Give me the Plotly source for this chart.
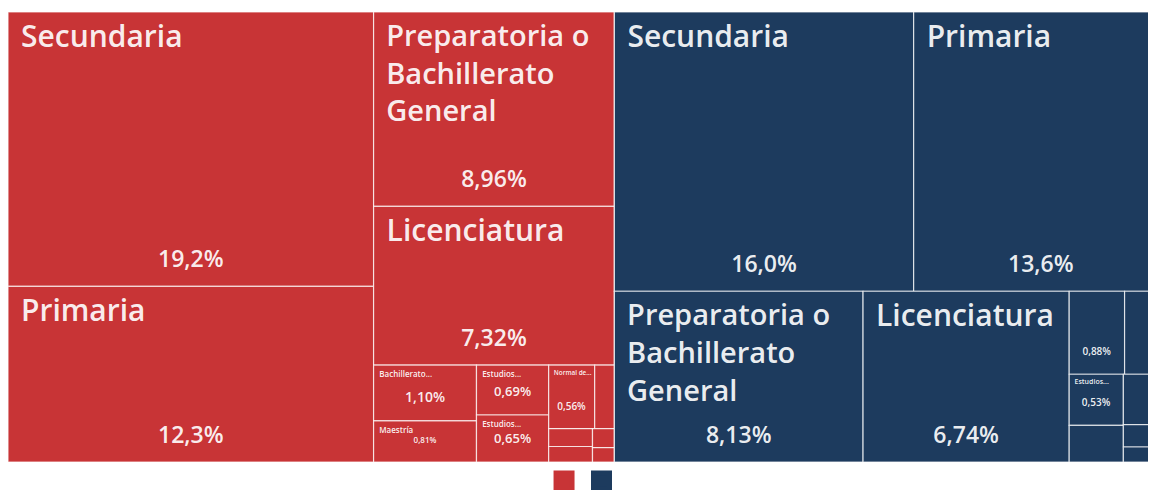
import plotly.graph_objects as go

## participación por nivel de escolaridad (%) ##
## rojo = mujeres, azul = hombres ##
niveles_m = ["Secundaria", "Primaria", "Preparatoria o Bachillerato General", "Licenciatura",
             "Bachillerato tecnológico", "Maestría",
             "Estudios técnicos o comerciales con preparatoria terminada",
             "Estudios técnicos o comerciales con secundaria terminada",
             "Normal de licenciatura",
             "Estudios técnicos o comerciales con primaria terminada",
             "Especialidad", "Doctorado",
             "Normal con primaria o secundaria terminada", "Preescolar"]
pct_m = [19.2, 12.3, 8.96, 7.32, 1.10, 0.81, 0.69, 0.65, 0.56, 0.24, 0.15, 0.13, 0.08, 0.06]

niveles_h = ["Secundaria", "Primaria", "Preparatoria o Bachillerato General", "Licenciatura",
             "Bachillerato tecnológico", "Maestría",
             "Estudios técnicos o comerciales con secundaria terminada",
             "Estudios técnicos o comerciales con preparatoria terminada",
             "Normal de licenciatura",
             "Estudios técnicos o comerciales con primaria terminada",
             "Especialidad", "Doctorado",
             "Normal con primaria o secundaria terminada", "Preescolar"]
pct_h = [16.0, 13.6, 8.13, 6.74, 0.88, 0.69, 0.53, 0.38, 0.25, 0.18, 0.12, 0.08, 0.07, 0.05]

## texto corto que se ve en cada celda ("" = sin texto) ##
etiq_m = ["Secundaria", "Primaria", "Preparatoria o<br>Bachillerato<br>General", "Licenciatura",
          "Bachillerato...", "Maestría", "Estudios...", "Estudios...", "Normal de...",
          "", "", "", "", ""]
etiq_h = ["Secundaria", "Primaria", "Preparatoria o<br>Bachillerato<br>General", "Licenciatura",
          "", "", "Estudios...", "", "", "", "", "", "", ""]

## estilos (tamaño de letra por celda, 0 = oculto) ##
tam_etiq_m = [30, 30, 29, 30, 8, 8, 8, 8, 8, 0, 0, 0, 0, 0]
tam_pct_m = [23, 23, 23, 23, 14, 8, 13, 13, 10, 0, 0, 0, 0, 0]
tam_etiq_h = [30, 30, 29, 30, 0, 0, 7, 0, 0, 0, 0, 0, 0, 0]
tam_pct_h = [23, 23, 23, 23, 10, 0, 10, 0, 0, 0, 0, 0, 0, 0]

ROJO = "#c83436"
AZUL = "#1d3b5e"
TEXTO = "rgba(255,255,255,0.93)"
FUENTE = "Open Sans, Noto Sans, sans-serif"
SANGRIA = "\u2004"  # pequeño margen a la izquierda del nombre


def fmt(v):
    s = f"{v:.1f}" if v >= 10 else f"{v:.2f}"
    return s.replace(".", ",") + "%"


def etiqueta(t):
    return "<br>".join(SANGRIA + linea for linea in t.split("<br>"))


def texto_pct(v, tam):
    # la segunda linea vacia deja aire debajo del porcentaje
    return "<span style='font-size:%dpx'>%s</span><br>\u00a0" % (tam, fmt(v))


## armado de la jerarquia ##
ids = ["M", "H", "H-sup", "H-inf"]
labels = ["Mujeres", "Hombres", "", ""]
parents = ["", "", "H", "H"]
values = [0, 0, 0, 0]
colors = [ROJO, AZUL, AZUL, AZUL]
txt_etiq = ["", "", "", ""]
txt_pct = ["", "", "", ""]
sz_etiq = [10, 10, 10, 10]

for i in range(len(niveles_m)):
    ids.append("M/" + niveles_m[i])
    labels.append(niveles_m[i])
    parents.append("M")
    values.append(pct_m[i])
    colors.append(ROJO)
    txt_etiq.append(etiqueta(etiq_m[i]) if (tam_etiq_m[i] and etiq_m[i]) else "")
    txt_pct.append(texto_pct(pct_m[i], tam_pct_m[i]) if tam_pct_m[i] else "")
    sz_etiq.append(tam_etiq_m[i] or 1)

for i in range(len(niveles_h)):
    ids.append("H/" + niveles_h[i])
    labels.append(niveles_h[i])
    parents.append("H-sup" if i < 2 else "H-inf")
    values.append(pct_h[i])
    colors.append(AZUL)
    txt_etiq.append(etiqueta(etiq_h[i]) if (tam_etiq_h[i] and etiq_h[i]) else "")
    txt_pct.append(texto_pct(pct_h[i], tam_pct_h[i]) if tam_pct_h[i] else "")
    sz_etiq.append(tam_etiq_h[i] or 1)

tiling = dict(packing="squarify", squarifyratio=1.6, pad=0)
pad0 = dict(t=0, l=0, r=0, b=0)

## celdas + nombre arriba a la izquierda ##
trace_celdas = go.Treemap(
    ids=ids, labels=labels, parents=parents, values=values,
    sort=True, tiling=tiling, pathbar=dict(visible=False),
    marker=dict(colors=colors, line=dict(color="rgba(255,255,255,0.75)", width=1.2), pad=pad0),
    text=txt_etiq, textinfo="text", textposition="top left",
    textfont=dict(family=FUENTE, size=sz_etiq, color=TEXTO, weight=600),
    hoverinfo="skip",
)

## porcentaje abajo al centro (misma jerarquia, relleno transparente) ##
trace_pct = go.Treemap(
    ids=ids, labels=labels, parents=parents, values=values,
    sort=True, tiling=tiling, pathbar=dict(visible=False),
    marker=dict(colors=["rgba(0,0,0,0)"] * len(ids), line=dict(color="rgba(0,0,0,0)", width=0), pad=pad0),
    text=txt_pct, textinfo="text", textposition="bottom center",
    textfont=dict(family=FUENTE, size=10, color=TEXTO, weight=600),
    hoverinfo="skip",
)

## leyenda: dos cuadros sin texto ##
leg_m = go.Scatter(x=[None], y=[None], mode="markers", name=" ", legend="legend",
                   marker=dict(symbol="square", size=16, color=ROJO, line=dict(color=ROJO, width=5)))
leg_h = go.Scatter(x=[None], y=[None], mode="markers", name=" ", legend="legend2",
                   marker=dict(symbol="square", size=16, color=AZUL, line=dict(color=AZUL, width=5)))

ley = dict(orientation="h", xanchor="left", y=-0.0098, yanchor="top",
           itemsizing="trace", itemclick=False, itemdoubleclick=False,
           bgcolor="rgba(0,0,0,0)", font=dict(size=10))

fig = go.Figure(data=[trace_celdas, trace_pct, leg_m, leg_h])
fig.update_layout(
    width=1160, height=500,
    margin=dict(l=0, r=0, t=4, b=46),
    paper_bgcolor="white", plot_bgcolor="white",
    showlegend=True,
    legend=dict(ley, x=0.4621),
    legend2=dict(ley, x=0.4944),
    xaxis=dict(visible=False), yaxis=dict(visible=False),
    font=dict(family=FUENTE),
)

fig.write_html("out.html")
